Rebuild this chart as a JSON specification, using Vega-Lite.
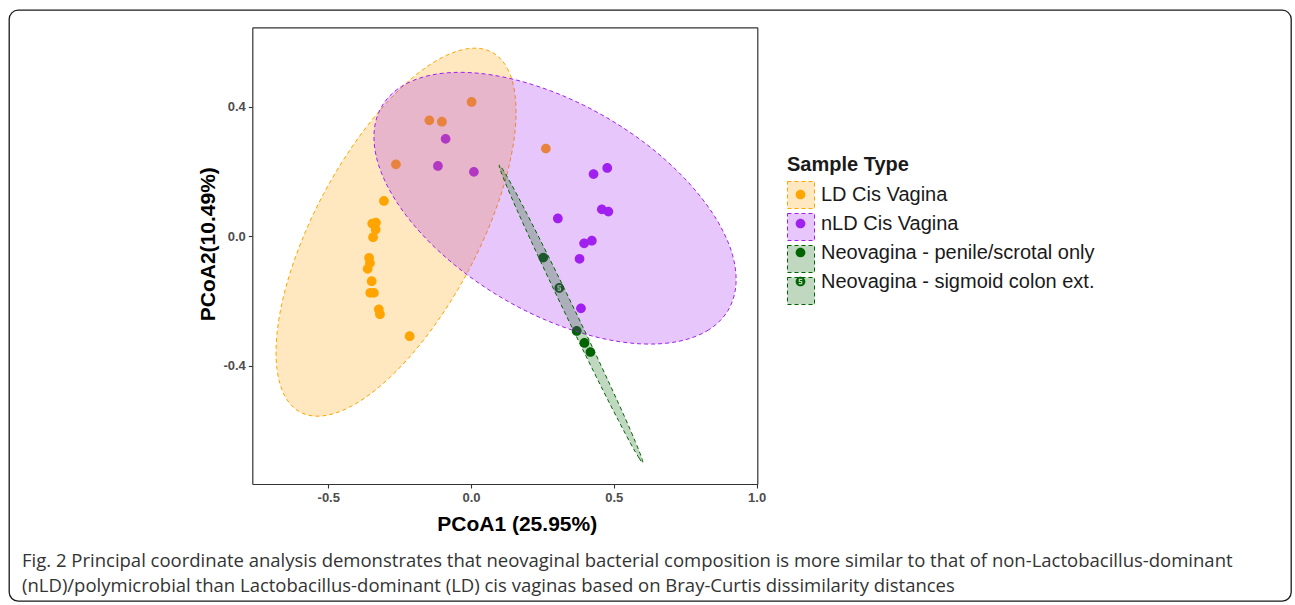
{
  "$schema": "https://vega.github.io/schema/vega-lite/v6.json",
  "width": 1282,
  "height": 591,
  "autosize": {"type": "none"},
  "padding": {"left": 9, "top": 10, "right": 4, "bottom": 4},
  "background": "white",
  "config": {
    "font": "Liberation Sans",
    "view": {"stroke": "#1A1A1A", "strokeWidth": 1.3, "cornerRadius": 9},
    "axis": {"grid": false, "domain": true, "domainColor": "#333333", "domainWidth": 1.2, "ticks": true, "tickSize": 4, "tickColor": "#333333", "tickWidth": 1.1, "labelFont": "Liberation Sans", "labelFontSize": 13, "labelFontWeight": "bold", "labelColor": "#4D4D4D", "labelPadding": 3, "labelFlush": false, "titleFont": "Liberation Sans", "titleFontSize": 21, "titleFontWeight": "bold", "titleColor": "#000000"}
  },
  "title": {
    "text": ["Fig. 2 Principal coordinate analysis demonstrates that neovaginal bacterial composition is more similar to that of non-Lactobacillus-dominant", "(nLD)/polymicrobial than Lactobacillus-dominant (LD) cis vaginas based on Bray-Curtis dissimilarity distances"],
    "orient": "bottom", "anchor": "start", "frame": "group", "dx": 13, "offset": -49,
    "font": "Open Sans", "fontSize": 18.5, "fontWeight": "normal", "color": "#333333", "lineHeight": 25, "baseline": "top"
  },
  "datasets": {
    "points": [
      {"x": 0.002, "y": 0.415, "type": "LD Cis Vagina"},
      {"x": -0.146, "y": 0.358, "type": "LD Cis Vagina"},
      {"x": -0.102, "y": 0.354, "type": "LD Cis Vagina"},
      {"x": -0.263, "y": 0.222, "type": "LD Cis Vagina"},
      {"x": 0.262, "y": 0.271, "type": "LD Cis Vagina"},
      {"x": -0.305, "y": 0.109, "type": "LD Cis Vagina"},
      {"x": -0.346, "y": 0.039, "type": "LD Cis Vagina"},
      {"x": -0.333, "y": 0.042, "type": "LD Cis Vagina"},
      {"x": -0.334, "y": 0.021, "type": "LD Cis Vagina"},
      {"x": -0.343, "y": -0.003, "type": "LD Cis Vagina"},
      {"x": -0.357, "y": -0.067, "type": "LD Cis Vagina"},
      {"x": -0.354, "y": -0.083, "type": "LD Cis Vagina"},
      {"x": -0.362, "y": -0.101, "type": "LD Cis Vagina"},
      {"x": -0.348, "y": -0.139, "type": "LD Cis Vagina"},
      {"x": -0.353, "y": -0.175, "type": "LD Cis Vagina"},
      {"x": -0.340, "y": -0.175, "type": "LD Cis Vagina"},
      {"x": -0.323, "y": -0.226, "type": "LD Cis Vagina"},
      {"x": -0.319, "y": -0.241, "type": "LD Cis Vagina"},
      {"x": -0.215, "y": -0.309, "type": "LD Cis Vagina"},
      {"x": -0.089, "y": 0.301, "type": "nLD Cis Vagina"},
      {"x": -0.116, "y": 0.217, "type": "nLD Cis Vagina"},
      {"x": 0.010, "y": 0.199, "type": "nLD Cis Vagina"},
      {"x": 0.429, "y": 0.192, "type": "nLD Cis Vagina"},
      {"x": 0.477, "y": 0.211, "type": "nLD Cis Vagina"},
      {"x": 0.304, "y": 0.055, "type": "nLD Cis Vagina"},
      {"x": 0.458, "y": 0.083, "type": "nLD Cis Vagina"},
      {"x": 0.481, "y": 0.076, "type": "nLD Cis Vagina"},
      {"x": 0.396, "y": -0.022, "type": "nLD Cis Vagina"},
      {"x": 0.423, "y": -0.014, "type": "nLD Cis Vagina"},
      {"x": 0.380, "y": -0.070, "type": "nLD Cis Vagina"},
      {"x": 0.385, "y": -0.223, "type": "nLD Cis Vagina"},
      {"x": 0.253, "y": -0.066, "type": "Neovagina - penile/scrotal only"},
      {"x": 0.370, "y": -0.293, "type": "Neovagina - penile/scrotal only"},
      {"x": 0.397, "y": -0.330, "type": "Neovagina - penile/scrotal only"},
      {"x": 0.418, "y": -0.358, "type": "Neovagina - penile/scrotal only"},
      {"x": 0.309, "y": -0.160, "type": "Neovagina - sigmoid colon ext."}
    ],
    "ellipses": [
      {"type": "LD Cis Vagina", "i": 0, "x": 0.0728, "y": 0.5687},
      {"type": "LD Cis Vagina", "i": 1, "x": 0.1271, "y": 0.5189},
      {"type": "LD Cis Vagina", "i": 2, "x": 0.1544, "y": 0.4346},
      {"type": "LD Cis Vagina", "i": 3, "x": 0.1537, "y": 0.3215},
      {"type": "LD Cis Vagina", "i": 4, "x": 0.1246, "y": 0.1875},
      {"type": "LD Cis Vagina", "i": 5, "x": 0.0690, "y": 0.0414},
      {"type": "LD Cis Vagina", "i": 6, "x": -0.0091, "y": -0.1066},
      {"type": "LD Cis Vagina", "i": 7, "x": -0.1047, "y": -0.2465},
      {"type": "LD Cis Vagina", "i": 8, "x": -0.2108, "y": -0.3688},
      {"type": "LD Cis Vagina", "i": 9, "x": -0.3204, "y": -0.4652},
      {"type": "LD Cis Vagina", "i": 10, "x": -0.4261, "y": -0.5288},
      {"type": "LD Cis Vagina", "i": 11, "x": -0.5210, "y": -0.5557},
      {"type": "LD Cis Vagina", "i": 12, "x": -0.5980, "y": -0.5439},
      {"type": "LD Cis Vagina", "i": 13, "x": -0.6520, "y": -0.4942},
      {"type": "LD Cis Vagina", "i": 14, "x": -0.6796, "y": -0.4099},
      {"type": "LD Cis Vagina", "i": 15, "x": -0.6789, "y": -0.2968},
      {"type": "LD Cis Vagina", "i": 16, "x": -0.6499, "y": -0.1628},
      {"type": "LD Cis Vagina", "i": 17, "x": -0.5942, "y": -0.0167},
      {"type": "LD Cis Vagina", "i": 18, "x": -0.5161, "y": 0.1313},
      {"type": "LD Cis Vagina", "i": 19, "x": -0.4205, "y": 0.2712},
      {"type": "LD Cis Vagina", "i": 20, "x": -0.3144, "y": 0.3935},
      {"type": "LD Cis Vagina", "i": 21, "x": -0.2048, "y": 0.4899},
      {"type": "LD Cis Vagina", "i": 22, "x": -0.0987, "y": 0.5535},
      {"type": "LD Cis Vagina", "i": 23, "x": -0.0042, "y": 0.5804},
      {"type": "nLD Cis Vagina", "i": 0, "x": 0.9006, "y": -0.2286},
      {"type": "nLD Cis Vagina", "i": 1, "x": 0.8319, "y": -0.2897},
      {"type": "nLD Cis Vagina", "i": 2, "x": 0.7265, "y": -0.3252},
      {"type": "nLD Cis Vagina", "i": 3, "x": 0.5921, "y": -0.3327},
      {"type": "nLD Cis Vagina", "i": 4, "x": 0.4370, "y": -0.3114},
      {"type": "nLD Cis Vagina", "i": 5, "x": 0.2721, "y": -0.2632},
      {"type": "nLD Cis Vagina", "i": 6, "x": 0.1089, "y": -0.1912},
      {"type": "nLD Cis Vagina", "i": 7, "x": -0.0417, "y": -0.1001},
      {"type": "nLD Cis Vagina", "i": 8, "x": -0.1695, "y": 0.0037},
      {"type": "nLD Cis Vagina", "i": 9, "x": -0.2658, "y": 0.1131},
      {"type": "nLD Cis Vagina", "i": 10, "x": -0.3239, "y": 0.2205},
      {"type": "nLD Cis Vagina", "i": 11, "x": -0.3396, "y": 0.3191},
      {"type": "nLD Cis Vagina", "i": 12, "x": -0.3123, "y": 0.4015},
      {"type": "nLD Cis Vagina", "i": 13, "x": -0.2437, "y": 0.4627},
      {"type": "nLD Cis Vagina", "i": 14, "x": -0.1383, "y": 0.4982},
      {"type": "nLD Cis Vagina", "i": 15, "x": -0.0039, "y": 0.5056},
      {"type": "nLD Cis Vagina", "i": 16, "x": 0.1513, "y": 0.4843},
      {"type": "nLD Cis Vagina", "i": 17, "x": 0.3162, "y": 0.4361},
      {"type": "nLD Cis Vagina", "i": 18, "x": 0.4793, "y": 0.3642},
      {"type": "nLD Cis Vagina", "i": 19, "x": 0.6303, "y": 0.2731},
      {"type": "nLD Cis Vagina", "i": 20, "x": 0.7577, "y": 0.1693},
      {"type": "nLD Cis Vagina", "i": 21, "x": 0.8540, "y": 0.0599},
      {"type": "nLD Cis Vagina", "i": 22, "x": 0.9121, "y": -0.0476},
      {"type": "nLD Cis Vagina", "i": 23, "x": 0.9279, "y": -0.1461},
      {"type": "Neovagina - penile/scrotal only", "i": 0, "x": 0.6012, "y": -0.7001},
      {"type": "Neovagina - penile/scrotal only", "i": 1, "x": 0.5886, "y": -0.6860},
      {"type": "Neovagina - penile/scrotal only", "i": 2, "x": 0.5595, "y": -0.6419},
      {"type": "Neovagina - penile/scrotal only", "i": 3, "x": 0.5165, "y": -0.5702},
      {"type": "Neovagina - penile/scrotal only", "i": 4, "x": 0.4620, "y": -0.4760},
      {"type": "Neovagina - penile/scrotal only", "i": 5, "x": 0.3999, "y": -0.3657},
      {"type": "Neovagina - penile/scrotal only", "i": 6, "x": 0.3344, "y": -0.2471},
      {"type": "Neovagina - penile/scrotal only", "i": 7, "x": 0.2700, "y": -0.1279},
      {"type": "Neovagina - penile/scrotal only", "i": 8, "x": 0.2110, "y": -0.0161},
      {"type": "Neovagina - penile/scrotal only", "i": 9, "x": 0.1614, "y": 0.0800},
      {"type": "Neovagina - penile/scrotal only", "i": 10, "x": 0.1250, "y": 0.1544},
      {"type": "Neovagina - penile/scrotal only", "i": 11, "x": 0.1036, "y": 0.2020},
      {"type": "Neovagina - penile/scrotal only", "i": 12, "x": 0.0991, "y": 0.2195},
      {"type": "Neovagina - penile/scrotal only", "i": 13, "x": 0.1117, "y": 0.2054},
      {"type": "Neovagina - penile/scrotal only", "i": 14, "x": 0.1408, "y": 0.1612},
      {"type": "Neovagina - penile/scrotal only", "i": 15, "x": 0.1838, "y": 0.0896},
      {"type": "Neovagina - penile/scrotal only", "i": 16, "x": 0.2383, "y": -0.0046},
      {"type": "Neovagina - penile/scrotal only", "i": 17, "x": 0.3004, "y": -0.1149},
      {"type": "Neovagina - penile/scrotal only", "i": 18, "x": 0.3659, "y": -0.2335},
      {"type": "Neovagina - penile/scrotal only", "i": 19, "x": 0.4303, "y": -0.3527},
      {"type": "Neovagina - penile/scrotal only", "i": 20, "x": 0.4893, "y": -0.4646},
      {"type": "Neovagina - penile/scrotal only", "i": 21, "x": 0.5389, "y": -0.5606},
      {"type": "Neovagina - penile/scrotal only", "i": 22, "x": 0.5753, "y": -0.6351},
      {"type": "Neovagina - penile/scrotal only", "i": 23, "x": 0.5966, "y": -0.6826}
    ]
  },
  "layer": [
    {
      "data": {"name": "points"},
      "mark": {"type": "point", "filled": true, "opacity": 1, "size": 729, "strokeWidth": 0},
      "encoding": {
        "x": {"field": "x", "type": "quantitative", "scale": {"domain": [-0.766, 1.0025], "range": [243.3, 748.3], "nice": false, "zero": false}, "axis": {"orient": "bottom", "offset": -117, "values": [-0.5, 0, 0.5, 1], "format": ".1f", "labelExpr": "replace(datum.label, '\u2212', '-')", "title": "PCoA1 (25.95%)", "titleX": 507.7, "titleY": 46, "titleBaseline": "alphabetic", "titleAlign": "center"}},
        "y": {"field": "y", "type": "quantitative", "scale": {"domain": [-0.766, 0.6456], "range": [474, 17.3], "nice": false, "zero": false}, "axis": {"orient": "left", "offset": -243.3, "values": [-0.4, 0, 0.4], "format": ".1f", "labelExpr": "replace(datum.label, '\u2212', '-')", "title": "PCoA2(10.49%)", "titleX": -38.3, "titleY": 233.7, "titleAngle": 270, "titleBaseline": "alphabetic", "titleAlign": "center"}},
        "color": {"field": "type", "type": "nominal", "scale": {"domain": ["LD Cis Vagina", "nLD Cis Vagina", "Neovagina - penile/scrotal only", "Neovagina - sigmoid colon ext."], "range": ["#FFA500", "#A020F0", "#006400", "#006400"]},
          "legend": {"title": "Sample Type", "orient": "none", "legendX": 778, "legendY": 145, "direction": "vertical", "padding": 0, "rowPadding": 0, "symbolSize": 729, "symbolStrokeWidth": 0, "symbolOpacity": 1, "titleColor": "#1A1A1A", "labelColor": "#1A1A1A", "titleFont": "Liberation Sans", "titleFontSize": 20, "titleFontWeight": "bold", "titlePadding": 6, "labelFont": "Liberation Sans", "labelFontSize": 20, "labelOffset": 7, "labelLimit": 400}},
        "shape": {"field": "type", "type": "nominal", "scale": {"domain": ["LD Cis Vagina", "nLD Cis Vagina", "Neovagina - penile/scrotal only", "Neovagina - sigmoid colon ext."], "range": [
          "M-1.04,-1.04M1.04,1.04M0.36,0A0.36,0.36,0,1,1,-0.36,0A0.36,0.36,0,1,1,0.36,0Z",
          "M-1.04,-1.04M1.04,1.04M0.36,0A0.36,0.36,0,1,1,-0.36,0A0.36,0.36,0,1,1,0.36,0Z",
          "M-1.04,-1.04M1.04,1.04M0.36,0A0.36,0.36,0,1,1,-0.36,0A0.36,0.36,0,1,1,0.36,0Z",
          "M-1.04,-1.04M1.04,1.04M0.36,0A0.36,0.36,0,1,1,-0.36,0A0.36,0.36,0,1,1,0.36,0ZM0.13,-0.2L-0.13,-0.2L-0.13,0.04L0.05,0.04L0.05,0.12L-0.13,0.12L-0.13,0.2L0.13,0.2L0.13,-0.04L-0.05,-0.04L-0.05,-0.12L0.13,-0.12Z"
        ]},
          "legend": {"title": "Sample Type", "orient": "none", "legendX": 778, "legendY": 145, "direction": "vertical", "padding": 0, "rowPadding": 0, "symbolSize": 729, "symbolStrokeWidth": 0, "symbolOpacity": 1, "titleColor": "#1A1A1A", "labelColor": "#1A1A1A", "titleFont": "Liberation Sans", "titleFontSize": 20, "titleFontWeight": "bold", "titlePadding": 6, "labelFont": "Liberation Sans", "labelFontSize": 20, "labelOffset": 7, "labelLimit": 400}}
      }
    },
    {
      "data": {"name": "ellipses"},
      "mark": {"type": "line", "interpolate": "cardinal-closed", "strokeWidth": 1, "strokeDash": [4, 3]},
      "encoding": {
        "x": {"field": "x", "type": "quantitative", "axis": {"orient": "top", "offset": -17.3, "domain": true, "ticks": false, "labels": false, "title": null}},
        "y": {"field": "y", "type": "quantitative", "axis": {"orient": "right", "offset": -533.7, "domain": true, "ticks": false, "labels": false, "title": null}},
        "order": {"field": "i", "type": "quantitative"},
        "fill": {"field": "type", "type": "nominal", "scale": {"domain": ["LD Cis Vagina", "nLD Cis Vagina", "Neovagina - penile/scrotal only", "Neovagina - sigmoid colon ext."], "range": ["rgba(255,165,0,0.25)", "rgba(160,32,240,0.25)", "rgba(0,100,0,0.25)", "rgba(0,100,0,0.25)"]},
          "legend": {"title": "Sample Type", "orient": "none", "legendX": 778, "legendY": 145, "direction": "vertical", "padding": 0, "rowPadding": 0, "symbolType": "square", "symbolSize": 729, "symbolStrokeWidth": 1, "symbolDash": [4, 3], "symbolStrokeColor": "#000000", "symbolFillColor": "#ffffff", "symbolOpacity": 1, "titleColor": "transparent", "labelColor": "transparent", "labelExpr": "''", "titleFont": "Liberation Sans", "titleFontSize": 20, "titleFontWeight": "bold", "titlePadding": 6, "labelFont": "Liberation Sans", "labelFontSize": 20, "labelOffset": 7, "labelLimit": 400}},
        "stroke": {"field": "type", "type": "nominal", "scale": {"domain": ["LD Cis Vagina", "nLD Cis Vagina", "Neovagina - penile/scrotal only", "Neovagina - sigmoid colon ext."], "range": ["#FFA500", "#A020F0", "#006400", "#006400"]},
          "legend": {"title": "Sample Type", "orient": "none", "legendX": 778, "legendY": 145, "direction": "vertical", "padding": 0, "rowPadding": 0, "symbolType": "square", "symbolSize": 729, "symbolStrokeWidth": 1, "symbolDash": [4, 3], "symbolStrokeColor": "#000000", "symbolFillColor": "#ffffff", "symbolOpacity": 1, "titleColor": "transparent", "labelColor": "transparent", "labelExpr": "''", "titleFont": "Liberation Sans", "titleFontSize": 20, "titleFontWeight": "bold", "titlePadding": 6, "labelFont": "Liberation Sans", "labelFontSize": 20, "labelOffset": 7, "labelLimit": 400}}
      }
    }
  ],
  "resolve": {"axis": {"x": "independent", "y": "independent"}, "legend": {"color": "independent", "shape": "independent"}}
}
